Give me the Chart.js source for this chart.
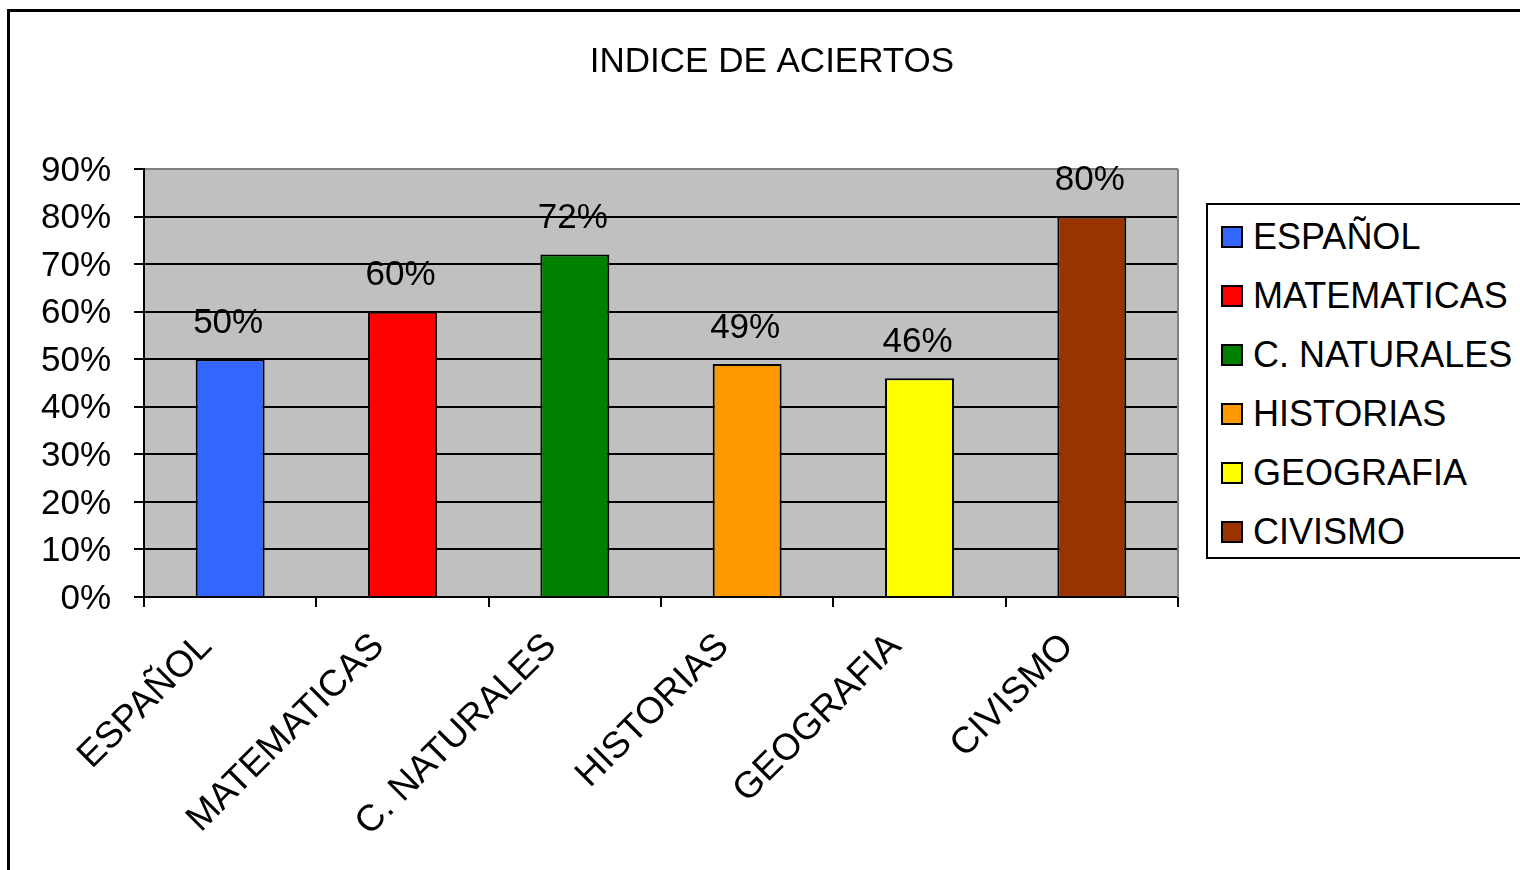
<!DOCTYPE html>
<html>
<head>
<meta charset="utf-8">
<title>INDICE DE ACIERTOS</title>
<script src="https://cdn.jsdelivr.net/npm/chart.js@4.4.1/dist/chart.umd.min.js"></script>
<style>
    html, body { margin: 0; padding: 0; background: #fff; overflow: hidden; }
    #stage { position: relative; width: 1520px; height: 870px; overflow: hidden; font-family: "Liberation Sans", Arial, sans-serif; }
    #frame { position: absolute; left: 7px; top: 9px; width: 1600px; height: 1000px; border-left: 3px solid #000; border-top: 3px solid #000; }
    #chartBox { position: absolute; left: 0; top: 0; width: 1544px; height: 870px; }
    #legend { position: absolute; left: 1206px; top: 203px; width: 400px; height: 356px; border: 2px solid #000; background: #fff; padding-top: 2px; box-sizing: border-box; }
    .legend-item { height: 59px; display: flex; align-items: center; padding-left: 13px; font-size: 36px; color: #000; white-space: nowrap; }
    .legend-swatch { width: 18px; height: 18px; border: 2px solid #000; margin-right: 10px; flex: none; }
</style>
</head>
<body>
<div id="stage">
    <div id="frame"></div>
    <div id="chartBox"><canvas id="aciertosChart"></canvas></div>
    <div id="legend"></div>
</div>
<script>
const chartTitle = 'INDICE DE ACIERTOS';
const subjects = ['ESPAÑOL', 'MATEMATICAS', 'C. NATURALES', 'HISTORIAS', 'GEOGRAFIA', 'CIVISMO'];
const scores = [50, 60, 72, 49, 46, 80];
const barColors = ['#3366FF', '#FF0000', '#008000', '#FF9900', '#FFFF00', '#993300'];
const yTickLabels = ['0%', '10%', '20%', '30%', '40%', '50%', '60%', '70%', '80%', '90%'];

Chart.defaults.font.family = '"Liberation Sans", Arial, sans-serif';
Chart.defaults.color = '#000';

// gray plot area + gray right edge, like the old Excel chart
const plotBackground = {
    id: 'plotBackground',
    beforeDraw(chart) {
        const { ctx, chartArea: a } = chart;
        ctx.save();
        ctx.fillStyle = '#C0C0C0';
        ctx.fillRect(a.left, a.top, a.right - a.left, a.bottom - a.top);
        ctx.restore();
    },
    afterDraw(chart) {
        const { ctx, chartArea: a } = chart;
        ctx.save();
        ctx.strokeStyle = '#808080';
        ctx.lineWidth = 2;
        ctx.beginPath();
        ctx.moveTo(a.right, a.top);
        ctx.lineTo(a.right, a.bottom);
        ctx.stroke();
        ctx.restore();
    }
};

// value labels over each bar
const valueLabels = {
    id: 'valueLabels',
    afterDatasetsDraw(chart) {
        const { ctx } = chart;
        const meta = chart.getDatasetMeta(0);
        ctx.save();
        ctx.font = '35px "Liberation Sans", Arial, sans-serif';
        ctx.fillStyle = '#000';
        ctx.textAlign = 'center';
        ctx.textBaseline = 'middle';
        meta.data.forEach((bar, i) => {
            ctx.fillText(scores[i] + '%', bar.x - 2, bar.y - 36);
        });
        ctx.restore();
    }
};

function buildLegend() {
    const box = document.getElementById('legend');
    subjects.forEach((name, i) => {
        const row = document.createElement('div');
        row.className = 'legend-item';
        row.innerHTML = `<span class="legend-swatch" style="background:${barColors[i]}"></span><span>${name}</span>`;
        box.appendChild(row);
    });
}

function renderChart() {
    const ctx = document.getElementById('aciertosChart').getContext('2d');
    new Chart(ctx, {
        type: 'bar',
        data: {
            labels: subjects,
            datasets: [{
                label: chartTitle,
                data: scores,
                backgroundColor: barColors,
                borderColor: '#000',
                borderWidth: 2,
                barPercentage: 0.4,
                categoryPercentage: 1
            }]
        },
        options: {
            responsive: true, maintainAspectRatio: false, animation: false,
            layout: { padding: 0 },
            plugins: {
                legend: { display: false },
                tooltip: { enabled: false },
                title: {
                    display: true, text: chartTitle, color: '#000',
                    font: { size: 35, weight: 'normal' },
                    padding: { top: 41, bottom: 86 }
                }
            },
            scales: {
                x: {
                    grid: { display: true, drawOnChartArea: false, offset: true, color: '#000', lineWidth: 2, tickLength: 10 },
                    border: { color: '#000', width: 2 },
                    ticks: { font: { size: 37 }, color: '#000', minRotation: 45, maxRotation: 45, autoSkip: false, padding: 18, labelOffset: -24 },
                    afterFit: s => { s.height = 870 - 597; }
                },
                y: {
                    min: 0, max: 90,
                    grid: {
                        color: c => (c.tick && c.tick.value === 90 ? '#808080' : '#000'),
                        tickColor: '#000', lineWidth: 2, tickLength: 10
                    },
                    border: { color: '#000', width: 2 },
                    ticks: { stepSize: 10, font: { size: 35 }, color: '#000', padding: 23, labelOffset: 2, callback: (v, i) => yTickLabels[i] },
                    afterFit: s => { s.width = 144; }
                },
                spacer: {
                    type: 'linear', position: 'right', display: true,
                    grid: { display: false }, border: { display: false }, ticks: { display: false },
                    afterFit: s => { s.width = 1544 - 1178; }
                }
            }
        },
        plugins: [plotBackground, valueLabels]
    });
}

buildLegend();
renderChart();
</script>
</body>
</html>
